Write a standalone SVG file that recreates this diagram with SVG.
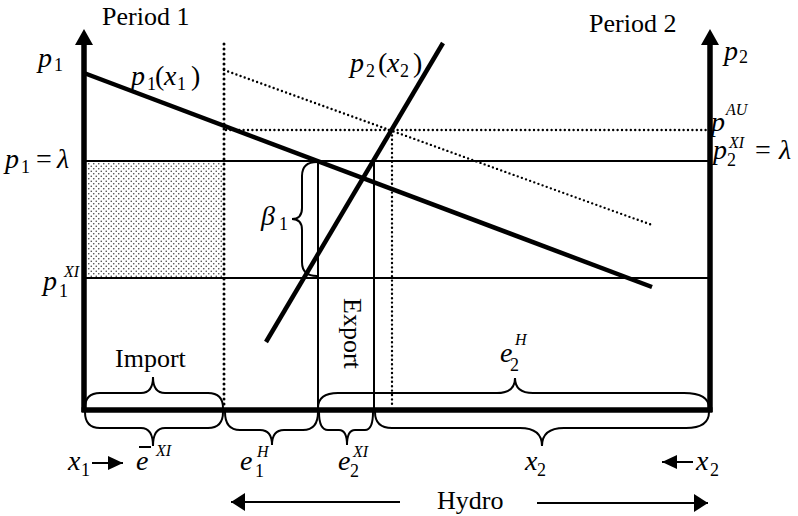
<svg xmlns="http://www.w3.org/2000/svg" width="798" height="516" viewBox="0 0 798 516">
<defs>
<style>
text{font-family:"Liberation Serif","Times New Roman",serif;fill:#000}
.t{font-size:26px}
.m{font-size:28px;font-style:italic}
.r{font-size:28px;font-style:normal}
.sb{font-size:18px;font-style:normal}
.sp{font-size:16px;font-style:italic}
.thin{stroke:#000;stroke-width:2;fill:none}
.thick{stroke:#000;stroke-width:4.5;fill:none}
.axis{stroke:#000;stroke-width:5.5;fill:none}
.brace{stroke:#000;stroke-width:2;fill:none}
.dot{stroke:#000;stroke-width:2.4;stroke-dasharray:0 4.4;stroke-linecap:round;fill:none}
.dotb{stroke:#000;stroke-width:3;stroke-dasharray:0 5;stroke-linecap:round;fill:none}
</style>
<pattern id="dots" width="5" height="5" patternUnits="userSpaceOnUse">
<circle cx="1.25" cy="1.25" r="0.8" fill="#444"/>
<circle cx="3.75" cy="3.75" r="0.8" fill="#444"/>
</pattern>
<marker id="axh" viewBox="0 0 16 18" refX="1" refY="9" markerWidth="16" markerHeight="18" markerUnits="userSpaceOnUse" orient="auto">
<path d="M0,0 L16,9 L0,18 Z" fill="#000"/>
</marker>
<marker id="big" viewBox="0 0 14 18" refX="14" refY="9" markerWidth="14" markerHeight="18" markerUnits="userSpaceOnUse" orient="auto">
<path d="M0,0 L14,9 L0,18 Z" fill="#000"/>
</marker>
<marker id="small" viewBox="0 0 15 14" refX="15" refY="7" markerWidth="15" markerHeight="14" markerUnits="userSpaceOnUse" orient="auto">
<path d="M0,0 L15,7 L0,14 Z" fill="#000"/>
</marker>
</defs>
<rect width="798" height="516" fill="#fff"/>

<g id="shaded-area">
<rect x="87" y="162" width="137" height="115" fill="url(#dots)"/>
</g>

<g id="connectors">
<line class="thin" x1="84" y1="161" x2="710" y2="161"/>
<line class="thin" x1="84" y1="278" x2="710" y2="278"/>
<line class="thin" x1="318" y1="161" x2="318" y2="410"/>
<line class="thin" x1="374" y1="161" x2="374" y2="410"/>
<line class="dotb" x1="224" y1="44" x2="224" y2="408"/>
<line class="dot" x1="224" y1="70" x2="652" y2="225"/>
<line class="dot" x1="226" y1="130" x2="708" y2="130"/>
<line class="dot" x1="392" y1="131" x2="392" y2="408"/>
<line class="thick" x1="84" y1="73" x2="652" y2="287"/>
<line class="thick" x1="266" y1="342" x2="443" y2="43"/>
<line class="thin" x1="400" y1="502" x2="231" y2="502" marker-end="url(#big)"/>
<line class="thin" x1="537" y1="503" x2="708" y2="503" marker-end="url(#big)"/>
<line class="thin" x1="92" y1="463" x2="123" y2="463" marker-end="url(#small)"/>
<line class="thin" x1="693" y1="462" x2="662" y2="462" marker-end="url(#small)"/>
</g>

<g id="axes">
<line class="axis" x1="84" y1="412" x2="84" y2="44" marker-end="url(#axh)"/>
<line class="axis" x1="710" y1="412" x2="710" y2="44" marker-end="url(#axh)"/>
<line class="axis" x1="81.5" y1="410" x2="712.5" y2="410"/>
</g>

<g id="braces">
<path class="brace" d="M85,408 Q85,393 100,393 L141,393 Q153,393 153,377 Q153,393 165,393 L208,393 Q223,393 223,408"/>
<path class="brace" d="M85,412 Q85,428 100,428 L141,428 Q153,428 153,446 Q153,428 165,428 L208,428 Q223,428 223,412"/>
<path class="brace" d="M225,412 Q225,430 240,430 L260,430 Q272,430 272,445 Q272,430 284,430 L303,430 Q318,430 318,412"/>
<path class="brace" d="M319,412 Q319,430 328,430 L339,430 Q347,430 347,445 Q347,430 355,430 L365,430 Q373,430 373,412"/>
<path class="brace" d="M375,412 Q375,428 392,428 L520,428 Q542,428 542,446 Q542,428 564,428 L686,428 Q709,428 709,412"/>
<path class="brace" d="M318,408 Q318,393 338,393 L497,393 Q515,393 515,378 Q515,393 533,393 L684,393 Q709,393 709,408"/>
<path class="brace" d="M317,162 Q302,162 302,176 L302,208 Q302,219 292,219 Q302,219 302,230 L302,262 Q302,276 317,276"/>
</g>

<g id="labels">
<text class="t" x="102" y="25">Period 1</text>
<text class="t" x="589" y="32">Period 2</text>
<text class="t" x="115" y="367">Import</text>
<text class="t" transform="translate(344,298) rotate(90)">Export</text>
<text class="t" x="437" y="509">Hydro</text>

<text class="m" x="38" y="67">p<tspan class="sb" x="54" y="71">1</tspan></text>
<text class="m" x="724" y="60">p<tspan class="sb" x="739" y="63">2</tspan></text>
<text class="m" x="5" y="168">p<tspan class="sb" x="21" y="173">1</tspan><tspan class="r" x="36" y="168">=</tspan><tspan x="57" y="168">λ</tspan></text>
<text class="m" x="43" y="290">p<tspan class="sp" x="64" y="277">XI</tspan><tspan class="sb" x="59" y="297">1</tspan></text>
<text class="m" x="711" y="131">p<tspan class="sp" x="726" y="115">AU</tspan></text>
<text class="m" x="713" y="159">p<tspan class="sp" x="729" y="148">XI</tspan><tspan class="sb" x="727" y="166">2</tspan><tspan class="r" x="755" y="159">=</tspan><tspan x="779" y="159">λ</tspan></text>
<text class="m" x="131" y="85">p<tspan class="sb" x="147" y="90">1</tspan><tspan class="r" x="155" y="85">(</tspan><tspan x="164" y="85">x</tspan><tspan class="sb" x="177" y="90">1</tspan><tspan class="r" x="191" y="85">)</tspan></text>
<text class="m" x="350" y="72">p<tspan class="sb" x="366" y="77">2</tspan><tspan class="r" x="378" y="72">(</tspan><tspan x="387" y="72">x</tspan><tspan class="sb" x="400" y="77">2</tspan><tspan class="r" x="413" y="72">)</tspan></text>
<text class="m" x="261" y="225">β<tspan class="sb" x="279" y="230">1</tspan></text>

<text class="m" x="136" y="470">e<tspan class="sp" x="156" y="456">XI</tspan></text>
<line class="thin" x1="139" y1="447" x2="151" y2="447"/>
<text class="m" x="240" y="470">e<tspan class="sp" x="257" y="457">H</tspan><tspan class="sb" x="255" y="477">1</tspan></text>
<text class="m" x="338" y="470">e<tspan class="sp" x="353" y="457">XI</tspan><tspan class="sb" x="350" y="477">2</tspan></text>
<text class="m" x="500" y="362">e<tspan class="sp" x="515" y="345">H</tspan><tspan class="sb" x="510" y="371">2</tspan></text>
<text class="m" x="525" y="470">x<tspan class="sb" x="537" y="476">2</tspan></text>
<text class="m" x="68" y="470">x<tspan class="sb" x="81" y="476">1</tspan></text>
<text class="m" x="696" y="470">x<tspan class="sb" x="710" y="476">2</tspan></text>
</g>
</svg>
